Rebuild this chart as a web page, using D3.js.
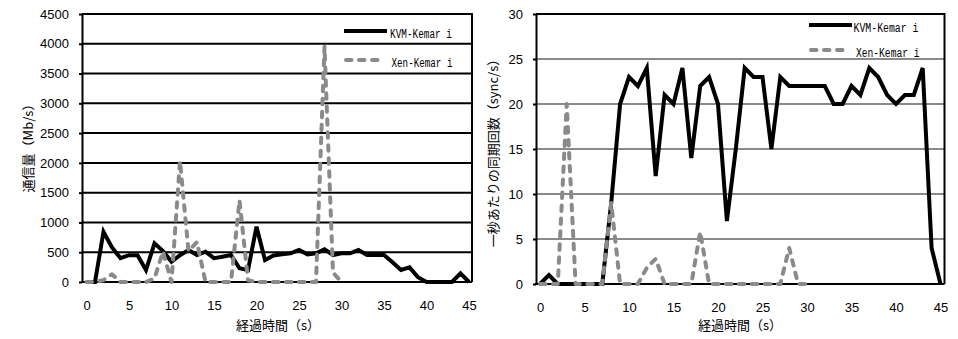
<!DOCTYPE html>
<html><head><meta charset="utf-8">
<script src="https://cdn.jsdelivr.net/npm/d3@7"></script>
<style>
body{margin:0;background:#fff;}
svg{display:block;}
</style></head><body>
<svg id="chart" width="958" height="339"></svg>
<script>
// ---- data ----
const seconds = [0,1,2,3,4,5,6,7,8,9,10,11,12,13,14,15,16,17,18,19,20,21,22,23,24,25,26,27,28,29,30,31,32,33,34,35,36,37,38,39,40,41,42,43,44,45];
const timeTicks = [0,5,10,15,20,25,30,35,40,45];
const throughputTicks = [0,500,1000,1500,2000,2500,3000,3500,4000,4500];
const syncTicks = [0,5,10,15,20,25,30];
const seriesNames = ["KVM-Kemar i","Xen-Kemar i"];
const xTitle = "経過時間（s）";
const leftYTitle = "通信量（Mb/s）";
const rightYTitle = "一秒あたりの同期回数（sync/s）";

const kvmThroughput = [0,0,844,580,400,450,450,200,650,520,340,450,537,453,509,400,425,453,230,200,928,369,445,464,481,537,464,481,548,453,481,481,537,453,453,453,330,201,246,80,0,0,0,0,146,0];
const xenThroughput = [0,0,30,130,0,0,0,0,60,510,0,2030,520,670,0,0,0,0,1370,30,0,0,0,0,0,0,0,0,3950,160,0];
const kvmSync = [0,1,0,0,0,0,0,0,9,20,23,22,24,12,21,20,24,14,22,23,20,7,15,24,23,23,15,23,22,22,22,22,22,20,20,22,21,24,23,21,20,21,21,24,4,0];
const xenSync = [0,0,0,20,0,0,0,0,9,0,0,0,1.8,2.8,0,0,0,0,5.8,0,0,0,0,0,0,0,0,0,4,0,0];

// ---- drawing ----
const svg = d3.select("#chart");
const NUM = "'Liberation Sans', Arial, sans-serif";
const CJK = "'Noto Sans CJK JP', sans-serif";
const MONO = "'Liberation Mono', 'DejaVu Sans Mono', monospace";
const GRAY = "#8a8a8a";

function panel(cfg){
  const g = svg.append("g");
  const x = d3.scaleLinear().domain([0,45]).range(cfg.xRange);
  const y = d3.scaleLinear().domain(cfg.yDomain).range([cfg.bottom, cfg.top]);

  // gridlines
  g.append("g").selectAll("line").data(cfg.yTicks.filter(v => v !== cfg.yDomain[0])).join("line")
    .attr("x1", cfg.left).attr("x2", cfg.right)
    .attr("y1", d => y(d)).attr("y2", d => y(d))
    .attr("stroke", d => (d === cfg.yDomain[1] ? "#000" : cfg.gridColor))
    .attr("stroke-width", 2);

  // right border
  g.append("line").attr("x1", cfg.right).attr("x2", cfg.right)
    .attr("y1", cfg.top - 1).attr("y2", cfg.bottom)
    .attr("stroke", "#000").attr("stroke-width", 2);

  // y axis
  const ya = g.append("g").attr("transform", `translate(${cfg.left},0)`)
    .call(d3.axisLeft(y).tickValues(cfg.yTicks).tickFormat(d3.format("d"))
      .tickSize(3).tickPadding(10).tickSizeOuter(0));
  ya.select(".domain").attr("stroke", "#000").attr("stroke-width", 2);
  ya.selectAll(".tick line").attr("stroke", "#000").attr("stroke-width", 2);
  ya.selectAll(".tick text").attr("font-family", NUM).attr("font-size", 13).attr("fill", "#000");

  // x axis
  const xa = g.append("g").attr("transform", `translate(0,${cfg.bottom})`)
    .call(d3.axisBottom(x).tickValues(timeTicks).tickFormat(d3.format("d"))
      .tickSize(0).tickPadding(19).tickSizeOuter(0));
  xa.select(".domain").remove();
  xa.selectAll(".tick text").attr("font-family", NUM).attr("font-size", 13).attr("fill", "#000");
  g.append("line").attr("x1", cfg.left - 1).attr("x2", cfg.right)
    .attr("y1", cfg.bottom).attr("y2", cfg.bottom)
    .attr("stroke", "#000").attr("stroke-width", 2);

  // lines
  const line = d3.line().x((d,i) => x(seconds[i])).y(d => y(d));
  g.append("path").datum(cfg.kvm).attr("d", line)
    .attr("fill", "none").attr("stroke", "#000").attr("stroke-width", 4)
    .attr("stroke-linejoin", "miter").attr("stroke-miterlimit", 4);
  g.append("path").datum(cfg.xen).attr("d", line)
    .attr("fill", "none").attr("stroke", GRAY).attr("stroke-width", 4)
    .attr("stroke-dasharray", "5.5,7.5").attr("stroke-linecap", "round")
    .attr("stroke-linejoin", "round");

  // legend
  const L = cfg.legend;
  g.append("line").attr("x1", L.x1).attr("x2", L.kx2).attr("y1", L.ky).attr("y2", L.ky)
    .attr("stroke", "#000").attr("stroke-width", 4);
  g.append("text").attr("x", L.ktx).attr("y", L.ky + 6.5).text(seriesNames[0])
    .attr("font-family", MONO).attr("font-size", 12).attr("textLength", L.kLen)
    .attr("lengthAdjust", "spacingAndGlyphs");
  g.append("line").attr("x1", L.x1 + 2).attr("x2", L.xx2).attr("y1", L.xy).attr("y2", L.xy)
    .attr("stroke", GRAY).attr("stroke-width", 4)
    .attr("stroke-dasharray", "5.5,7.5").attr("stroke-linecap", "round");
  g.append("text").attr("x", L.xtx).attr("y", L.xy + 6.5).text(seriesNames[1])
    .attr("font-family", MONO).attr("font-size", 12).attr("textLength", L.xLen)
    .attr("lengthAdjust", "spacingAndGlyphs");

  // titles
  g.append("text").attr("x", cfg.xTitleX).attr("y", 330).attr("text-anchor", "middle")
    .attr("font-family", CJK).attr("font-size", 13).text(xTitle);
  g.append("text").attr("transform", `translate(${cfg.yTitleX},${cfg.yTitleY}) rotate(-90)`)
    .attr("text-anchor", "middle").attr("dy", "0.35em")
    .attr("font-family", CJK).attr("font-size", 13).text(cfg.yTitle);
}

panel({
  left: 82, right: 472, top: 14, bottom: 282,
  xRange: [86.5, 469], yDomain: [0, 4500], yTicks: throughputTicks,
  gridColor: "#000", kvm: kvmThroughput, xen: xenThroughput,
  legend: {x1: 344, kx2: 387, ky: 31, ktx: 390, kLen: 62, xx2: 380, xy: 60, xtx: 391.5, xLen: 61},
  xTitleX: 278, yTitleX: 28, yTitleY: 145, yTitle: leftYTitle
});
panel({
  left: 536, right: 944.5, top: 14, bottom: 284,
  xRange: [540, 940.5], yDomain: [0, 30], yTicks: syncTicks,
  gridColor: GRAY, kvm: kvmSync, xen: xenSync,
  legend: {x1: 809, kx2: 852, ky: 25, ktx: 853.5, kLen: 65, xx2: 845, xy: 50, xtx: 856, xLen: 63.5},
  xTitleX: 740, yTitleX: 493, yTitleY: 150, yTitle: rightYTitle
});
</script>
</body></html>
